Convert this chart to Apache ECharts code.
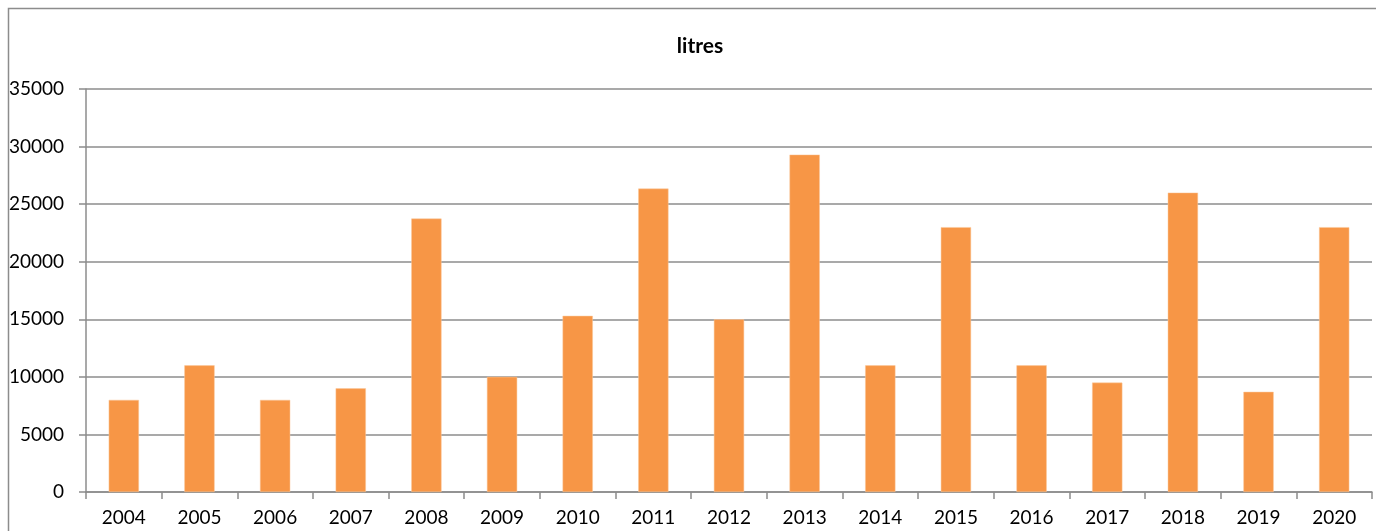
<!DOCTYPE html>
<html>
<head>
<meta charset="utf-8">
<script src="https://cdn.jsdelivr.net/npm/echarts@6/dist/echarts.min.js"></script>
<style>
  html, body { margin: 0; padding: 0; background: #fff; }
  #chart { width: 1376px; height: 531px; }
</style>
</head>
<body>
<div id="chart"></div>
<script>
const years = ['2004', '2005', '2006', '2007', '2008', '2009', '2010', '2011', '2012',
  '2013', '2014', '2015', '2016', '2017', '2018', '2019', '2020']
const litres = [8000, 11000, 8000, 9000, 23750, 10000, 15300, 26350, 15000,
  29300, 11000, 23000, 11000, 9500, 26000, 8700, 23000]
const chartTitle = 'litres'

const chart = echarts.init(document.getElementById('chart'))

chart.setOption({
  animation: false,
  textStyle: { fontFamily: 'Lato, "Open Sans", sans-serif' },
  title: {
    text: chartTitle,
    left: 695,
    top: 31,
    textAlign: 'center',
    textStyle: { fontSize: 21, fontWeight: 'bold', color: '#000', fontFamily: 'Lato, sans-serif' },
  },
  graphic: [
    {
      type: 'rect',
      shape: { x: 8.5, y: 8.5, width: 1400, height: 600 },
      style: { fill: 'none', stroke: '#8c8c8c', lineWidth: 1.5 },
      silent: true,
    },
  ],
  grid: { left: 86, right: 4, top: 89, bottom: 39 },
  xAxis: {
    type: 'category',
    data: years,
    axisLine: { lineStyle: { color: '#8c8c8c', width: 1.5 } },
    axisTick: { show: true, length: 7, lineStyle: { color: '#8c8c8c', width: 1.5 } },
    axisLabel: { color: '#000', fontSize: 19, margin: 16 },
  },
  yAxis: {
    type: 'value',
    min: 0,
    max: 35000,
    interval: 5000,
    axisLine: { show: true, lineStyle: { color: '#8c8c8c', width: 1.5 } },
    axisTick: { show: true, length: 7, lineStyle: { color: '#8c8c8c', width: 1.5 } },
    axisLabel: { color: '#000', fontSize: 19, margin: 22, formatter: v => String(v) },
    splitLine: { lineStyle: { color: '#8c8c8c', width: 1.5 } },
  },
  series: [
    {
      name: chartTitle,
      type: 'bar',
      data: litres,
      barCategoryGap: '60%',
      itemStyle: { color: '#f79646', borderColor: '#fbc89c', borderWidth: 0.5 },
    },
  ],
})
</script>
</body>
</html>
